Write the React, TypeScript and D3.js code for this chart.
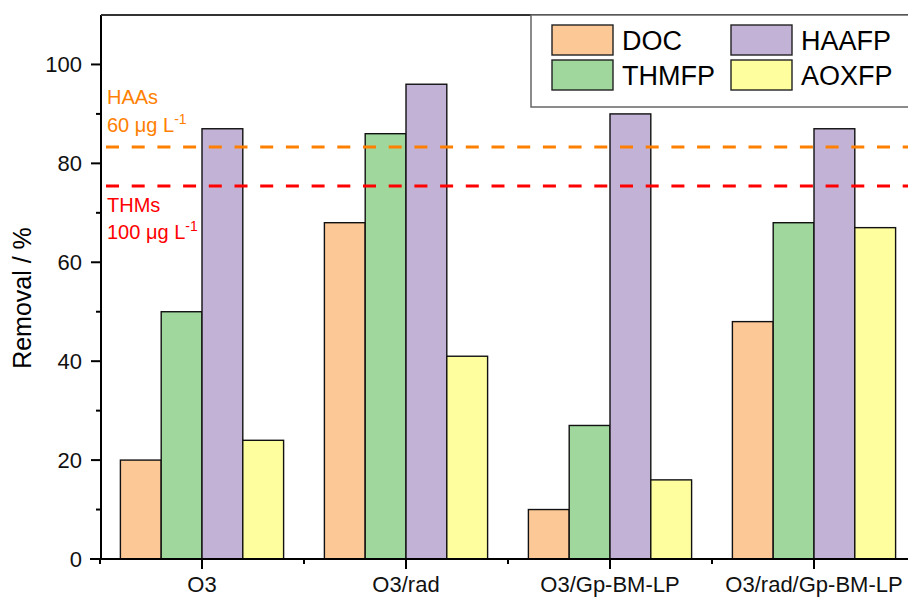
import React from 'react'
import * as d3 from 'd3'

// data
const categories = ['O3', 'O3/rad', 'O3/Gp-BM-LP', 'O3/rad/Gp-BM-LP']
const seriesNames = ['DOC', 'THMFP', 'HAAFP', 'AOXFP']
const seriesColors = ['#FCC996', '#9FD79D', '#C2B2D6', '#FFFE9F']
const DOC = [20, 68, 10, 48]
const THMFP = [50, 86, 27, 68]
const HAAFP = [87, 96, 90, 87]
const AOXFP = [24, 41, 16, 67]
const yMajorTicks = [0, 20, 40, 60, 80, 100]
const yMinorTicks = [10, 30, 50, 70, 90]
const limits = [
  { name: 'HAAs', conc: '60 μg L', value: 83.3, color: '#FF8000' },
  { name: 'THMs', conc: '100 μg L', value: 75.4, color: '#FF0000' },
]

const W = 908
const H = 598
const font = 'Arial, "Liberation Sans", sans-serif'

export default function App() {
  const values = [DOC, THMFP, HAAFP, AOXFP]
  const margin = { top: 15, left: 101, bottom: 39 }
  const plotBottom = H - margin.bottom

  const x = d3.scaleBand<string>().domain(categories).range([margin.left - 1, margin.left - 1 + 204 * 4]).padding(0)
  const xInner = d3.scaleBand<string>().domain(seriesNames)
    .range([x.bandwidth() * 0.1, x.bandwidth() * 0.9]).padding(0)
  const y = d3.scaleLinear().domain([0, 110]).range([plotBottom, margin.top])

  const minorX = d3.range(categories.length + 1).map(i => x.range()[0] + i * x.bandwidth())

  return (
    <svg width={W} height={H} style={{ position: 'absolute', left: 0, top: 0, background: '#fff' }} fontFamily={font}>
      {/* bars */}
      {categories.map((c, ci) => (
        <g key={c} transform={`translate(${x(c)},0)`}>
          {seriesNames.map((s, si) => (
            <rect key={s}
              x={xInner(s)} y={y(values[si][ci])}
              width={xInner.bandwidth()} height={y(0) - y(values[si][ci])}
              fill={seriesColors[si]} stroke="#111" strokeWidth={1.4} />
          ))}
        </g>
      ))}

      {/* guideline limits */}
      {limits.map(l => (
        <line key={l.name} x1={margin.left} x2={W} y1={y(l.value)} y2={y(l.value)}
          stroke={l.color} strokeWidth={3} strokeDasharray="13 12.7" strokeDashoffset={-5} />
      ))}
      <g fontSize={20}>
        <text x={107} y={104} fill={limits[0].color}>{limits[0].name}</text>
        <text x={107} y={132} fill={limits[0].color}>{limits[0].conc}
          <tspan dy={-8} fontSize={14}>-1</tspan></text>
        <text x={107} y={212} fill={limits[1].color}>{limits[1].name}</text>
        <text x={107} y={239} fill={limits[1].color}>{limits[1].conc}
          <tspan dy={-8} fontSize={14}>-1</tspan></text>
      </g>

      {/* frame lines */}
      <line x1={margin.left} x2={margin.left} y1={margin.top} y2={plotBottom + 1} stroke="#000" strokeWidth={2} />
      <line x1={margin.left - 11} x2={W} y1={plotBottom} y2={plotBottom} stroke="#000" strokeWidth={2} />
      <line x1={margin.left} x2={W} y1={margin.top} y2={margin.top} stroke="#333" strokeWidth={2} />

      {/* y ticks */}
      {yMajorTicks.map(t => (
        <g key={t}>
          <line x1={margin.left - 10} x2={margin.left} y1={y(t)} y2={y(t)} stroke="#000" strokeWidth={2} />
          <text x={82} y={y(t) + 8} fontSize={22} textAnchor="end" fill="#111">{t}</text>
        </g>
      ))}
      {yMinorTicks.map(t => (
        <line key={t} x1={margin.left - 5} x2={margin.left} y1={y(t)} y2={y(t)} stroke="#000" strokeWidth={2} />
      ))}

      {/* x ticks */}
      {categories.map(c => (
        <g key={c}>
          <line x1={x(c)! + x.bandwidth() / 2} x2={x(c)! + x.bandwidth() / 2} y1={plotBottom} y2={plotBottom + 10}
            stroke="#000" strokeWidth={2} />
          <text x={x(c)! + x.bandwidth() / 2} y={592} fontSize={22} textAnchor="middle" fill="#111">{c}</text>
        </g>
      ))}
      {minorX.map(v => (
        <line key={v} x1={v} x2={v} y1={plotBottom} y2={plotBottom + 5} stroke="#000" strokeWidth={2} />
      ))}

      {/* y title */}
      <text transform={`translate(31,298) rotate(-90)`} fontSize={25} textAnchor="middle" fill="#000">Removal / %</text>

      {/* legend */}
      <rect x={531} y={margin.top} width={W} height={107 - margin.top} fill="#fff" stroke="#666" strokeWidth={1.5} />
      {seriesNames.map((s, i) => {
        const col = Math.floor(i / 2)
        const row = i % 2
        const lx = 552 + col * 179
        const ly = 25 + row * 35
        return (
          <g key={s}>
            <rect x={lx} y={ly} width={61} height={30} fill={seriesColors[i]} stroke="#222" strokeWidth={1.4} />
            <text x={lx + 70} y={ly + 25} fontSize={27} fill="#000">{s}</text>
          </g>
        )
      })}
    </svg>
  )
}
